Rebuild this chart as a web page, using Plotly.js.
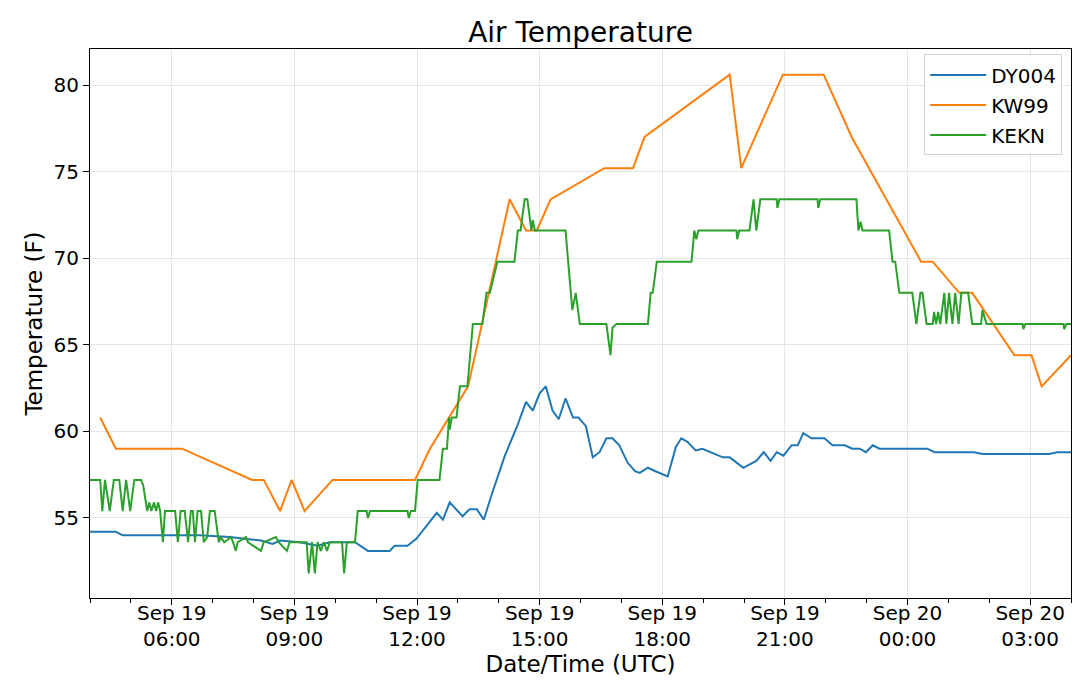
<!DOCTYPE html>
<html>
<head>
<meta charset="utf-8">
<script src="https://cdn.plot.ly/plotly-3.0.1.min.js"></script>
<style>
  html, body { margin: 0; padding: 0; background: #fff; }
  #chart { width: 1080px; height: 688px; }
</style>
</head>
<body>
<div id="chart"></div>
<script>
// DY004 station
var dyTimes = ['2019-09-19 04:00','2019-09-19 04:38','2019-09-19 04:48','2019-09-19 06:41','2019-09-19 07:25',
  '2019-09-19 08:11','2019-09-19 08:28','2019-09-19 08:39','2019-09-19 09:08','2019-09-19 09:34','2019-09-19 09:52',
  '2019-09-19 10:29','2019-09-19 10:48','2019-09-19 11:20','2019-09-19 11:27','2019-09-19 11:46','2019-09-19 11:59',
  '2019-09-19 12:11','2019-09-19 12:29','2019-09-19 12:38','2019-09-19 12:48','2019-09-19 13:07','2019-09-19 13:17',
  '2019-09-19 13:28','2019-09-19 13:38','2019-09-19 13:50','2019-09-19 14:09','2019-09-19 14:28','2019-09-19 14:40',
  '2019-09-19 14:50','2019-09-19 15:00','2019-09-19 15:09','2019-09-19 15:19','2019-09-19 15:28','2019-09-19 15:38',
  '2019-09-19 15:49','2019-09-19 15:57','2019-09-19 16:08','2019-09-19 16:18','2019-09-19 16:28','2019-09-19 16:38',
  '2019-09-19 16:47','2019-09-19 16:57','2019-09-19 17:09','2019-09-19 17:20','2019-09-19 17:27','2019-09-19 17:39',
  '2019-09-19 17:50','2019-09-19 18:08','2019-09-19 18:20','2019-09-19 18:28','2019-09-19 18:37','2019-09-19 18:49',
  '2019-09-19 18:59','2019-09-19 19:29','2019-09-19 19:39','2019-09-19 19:49','2019-09-19 19:59','2019-09-19 20:18',
  '2019-09-19 20:29','2019-09-19 20:39','2019-09-19 20:48','2019-09-19 20:58','2019-09-19 21:10','2019-09-19 21:19',
  '2019-09-19 21:27','2019-09-19 21:39','2019-09-19 21:58','2019-09-19 22:10','2019-09-19 22:28','2019-09-19 22:39',
  '2019-09-19 22:50','2019-09-19 22:59','2019-09-19 23:09','2019-09-19 23:19','2019-09-20 00:29','2019-09-20 00:40',
  '2019-09-20 01:38','2019-09-20 01:50','2019-09-20 03:28','2019-09-20 03:40','2019-09-20 04:00'];
var dyTemps = [54.2,54.2,54.0,54.0,53.9,
  53.7,53.5,53.7,53.6,53.4,53.6,
  53.6,53.1,53.1,53.4,53.4,53.8,
  54.4,55.3,54.9,55.9,55.1,55.5,
  55.5,54.9,56.4,58.6,60.4,61.7,
  61.2,62.2,62.6,61.2,60.7,61.9,
  60.8,60.8,60.3,58.5,58.8,59.6,
  59.6,59.2,58.2,57.7,57.6,57.9,
  57.7,57.4,59.1,59.6,59.4,58.9,
  59.0,58.5,58.5,58.2,57.9,58.3,
  58.8,58.3,58.8,58.6,59.2,59.2,
  59.9,59.6,59.6,59.2,59.2,59.0,
  59.0,58.8,59.2,59.0,59.0,58.8,
  58.8,58.7,58.7,58.8,58.8];

// KW99 station
var kwTimes = ['2019-09-19 04:15','2019-09-19 04:38','2019-09-19 06:15','2019-09-19 07:58','2019-09-19 08:15',
  '2019-09-19 08:39','2019-09-19 08:56','2019-09-19 09:15','2019-09-19 09:56','2019-09-19 11:57','2019-09-19 12:19',
  '2019-09-19 13:15','2019-09-19 14:16','2019-09-19 14:40','2019-09-19 14:56','2019-09-19 15:16','2019-09-19 16:35',
  '2019-09-19 17:17','2019-09-19 17:34','2019-09-19 19:39','2019-09-19 19:56','2019-09-19 20:57','2019-09-19 21:57',
  '2019-09-19 22:38','2019-09-20 00:20','2019-09-20 00:37','2019-09-20 01:16','2019-09-20 01:35','2019-09-20 02:37',
  '2019-09-20 03:02','2019-09-20 03:17','2019-09-20 04:00'];
var kwTemps = [60.8,59.0,59.0,57.2,57.2,
  55.4,57.2,55.4,57.2,57.2,59.0,
  62.6,73.4,71.6,71.6,73.4,75.2,
  75.2,77.0,80.6,75.2,80.6,80.6,
  77.0,69.8,69.8,68.0,68.0,64.4,
  64.4,62.6,64.4];

// KEKN station
var ekTimes = ['2019-09-19 04:00','2019-09-19 04:15','2019-09-19 04:18','2019-09-19 04:22','2019-09-19 04:29',
  '2019-09-19 04:35','2019-09-19 04:43','2019-09-19 04:48','2019-09-19 04:53','2019-09-19 04:59','2019-09-19 05:05',
  '2019-09-19 05:15','2019-09-19 05:18','2019-09-19 05:24','2019-09-19 05:27','2019-09-19 05:30','2019-09-19 05:34',
  '2019-09-19 05:37','2019-09-19 05:40','2019-09-19 05:43','2019-09-19 05:47','2019-09-19 05:50','2019-09-19 06:05',
  '2019-09-19 06:09','2019-09-19 06:13','2019-09-19 06:19','2019-09-19 06:24','2019-09-19 06:28','2019-09-19 06:31',
  '2019-09-19 06:34','2019-09-19 06:38','2019-09-19 06:43','2019-09-19 06:47','2019-09-19 06:52','2019-09-19 06:56',
  '2019-09-19 07:03','2019-09-19 07:09','2019-09-19 07:12','2019-09-19 07:17','2019-09-19 07:27','2019-09-19 07:30',
  '2019-09-19 07:34','2019-09-19 07:37','2019-09-19 07:49','2019-09-19 07:52','2019-09-19 08:11','2019-09-19 08:15',
  '2019-09-19 08:33','2019-09-19 08:37','2019-09-19 08:49','2019-09-19 08:53','2019-09-19 09:18','2019-09-19 09:21',
  '2019-09-19 09:26','2019-09-19 09:30','2019-09-19 09:34','2019-09-19 09:39','2019-09-19 09:43','2019-09-19 09:48',
  '2019-09-19 09:52','2019-09-19 10:10','2019-09-19 10:13','2019-09-19 10:17','2019-09-19 10:29','2019-09-19 10:33',
  '2019-09-19 10:46','2019-09-19 10:48','2019-09-19 10:51','2019-09-19 11:46','2019-09-19 11:48','2019-09-19 11:51',
  '2019-09-19 11:57','2019-09-19 12:01','2019-09-19 12:33','2019-09-19 12:38','2019-09-19 12:44','2019-09-19 12:47',
  '2019-09-19 12:48','2019-09-19 12:51','2019-09-19 12:58','2019-09-19 13:03','2019-09-19 13:14','2019-09-19 13:22',
  '2019-09-19 13:36','2019-09-19 13:42','2019-09-19 13:47','2019-09-19 13:58','2019-09-19 14:23','2019-09-19 14:28',
  '2019-09-19 14:32','2019-09-19 14:38','2019-09-19 14:42','2019-09-19 14:48','2019-09-19 14:50','2019-09-19 14:53',
  '2019-09-19 15:38','2019-09-19 15:48','2019-09-19 15:53','2019-09-19 15:59','2019-09-19 16:38','2019-09-19 16:44',
  '2019-09-19 16:47','2019-09-19 16:53','2019-09-19 17:39','2019-09-19 17:43','2019-09-19 17:46','2019-09-19 17:52',
  '2019-09-19 18:43','2019-09-19 18:47','2019-09-19 18:50','2019-09-19 18:53','2019-09-19 19:49','2019-09-19 19:50',
  '2019-09-19 19:53','2019-09-19 20:08','2019-09-19 20:14','2019-09-19 20:18','2019-09-19 20:24','2019-09-19 20:48',
  '2019-09-19 20:49','2019-09-19 20:52','2019-09-19 21:48','2019-09-19 21:49','2019-09-19 21:52','2019-09-19 22:45',
  '2019-09-19 22:48','2019-09-19 22:51','2019-09-19 22:54','2019-09-19 23:33','2019-09-19 23:38','2019-09-19 23:42',
  '2019-09-19 23:48','2019-09-20 00:07','2019-09-20 00:13','2019-09-20 00:19','2019-09-20 00:22','2019-09-20 00:28',
  '2019-09-20 00:37','2019-09-20 00:39','2019-09-20 00:42','2019-09-20 00:45','2019-09-20 00:48','2019-09-20 00:54',
  '2019-09-20 00:57','2019-09-20 01:01','2019-09-20 01:06','2019-09-20 01:10','2019-09-20 01:15','2019-09-20 01:19',
  '2019-09-20 01:29','2019-09-20 01:35','2019-09-20 01:48','2019-09-20 01:50','2019-09-20 01:56','2019-09-20 02:49',
  '2019-09-20 02:50','2019-09-20 02:53','2019-09-20 03:49','2019-09-20 03:50','2019-09-20 03:53','2019-09-20 04:00'];
var ekTemps = [57.2,57.2,55.4,57.2,55.4,
  57.2,57.2,55.4,57.2,55.4,57.2,
  57.2,56.9,55.4,55.9,55.4,55.9,
  55.4,55.9,55.4,53.6,55.4,55.4,
  53.6,55.4,55.4,53.6,55.4,55.4,
  53.6,55.4,55.4,53.6,53.9,55.4,
  55.4,53.6,53.9,53.6,53.9,53.6,
  53.1,53.6,53.9,53.6,53.1,53.6,
  53.9,53.6,53.1,53.6,53.6,51.8,
  53.6,51.8,53.6,53.1,53.6,53.1,
  53.6,53.6,51.8,53.6,53.6,55.4,
  55.4,55.0,55.4,55.4,55.0,55.4,
  55.4,57.2,57.2,59.0,59.0,60.8,
  60.1,60.8,60.8,62.6,62.6,66.2,
  66.2,68.0,68.0,69.8,69.8,71.6,
  71.6,73.4,73.4,71.6,72.2,71.6,
  71.6,67.0,68.0,66.2,66.2,64.4,
  66.0,66.2,66.2,68.0,68.0,69.8,
  69.8,71.6,71.1,71.6,71.6,71.1,
  71.6,71.6,73.4,71.6,73.4,73.4,
  72.9,73.4,73.4,72.9,73.4,73.4,
  71.6,72.1,71.6,71.6,69.8,69.8,
  68.0,68.0,66.2,68.0,68.0,66.2,
  66.2,66.9,66.2,66.9,66.2,68.0,
  66.2,68.0,66.2,68.0,66.2,68.0,
  68.0,66.2,66.2,67.0,66.2,66.2,
  65.9,66.2,66.2,65.9,66.2,66.2];

var tickDates = ['2019-09-19 06:00','2019-09-19 09:00','2019-09-19 12:00','2019-09-19 15:00',
  '2019-09-19 18:00','2019-09-19 21:00','2019-09-20 00:00','2019-09-20 03:00'];
var tickLabels = ['Sep 19<br>06:00','Sep 19<br>09:00','Sep 19<br>12:00','Sep 19<br>15:00',
  'Sep 19<br>18:00','Sep 19<br>21:00','Sep 20<br>00:00','Sep 20<br>03:00'];
var yTicks = [55, 60, 65, 70, 75, 80];

var font = 'DejaVu Sans, sans-serif';

var traces = [
  { name: 'DY004', x: dyTimes, y: dyTemps, type: 'scatter', mode: 'lines', legendgroup: 'a',
    line: { color: '#1f77b4', width: 2 } },
  { name: 'KW99', x: kwTimes, y: kwTemps, type: 'scatter', mode: 'lines', legendgroup: 'b',
    line: { color: '#ff7f0e', width: 2 } },
  { name: 'KEKN', x: ekTimes, y: ekTemps, type: 'scatter', mode: 'lines', legendgroup: 'c',
    line: { color: '#2ca02c', width: 2 } }
];

var layout = {
  width: 1080,
  height: 688,
  paper_bgcolor: '#fff',
  plot_bgcolor: '#fff',
  font: { family: font, size: 20, color: '#000' },
  margin: { l: 90, r: 9, t: 49, b: 90 },
  title: { text: 'Air Temperature', font: { family: font, size: 28, color: '#000' },
    xref: 'paper', x: 0.5, xanchor: 'center', y: 0.953, yanchor: 'middle' },
  showlegend: true,
  legend: {
    x: 0.991, xanchor: 'right', y: 0.99, yanchor: 'top',
    bgcolor: 'rgba(255,255,255,0.8)', bordercolor: '#d0d0d0', borderwidth: 1,
    font: { family: font, size: 20, color: '#000' },
    itemwidth: 56, traceorder: 'grouped', tracegroupgap: 1
  },
  xaxis: {
    type: 'date',
    range: ['2019-09-19 04:00', '2019-09-20 04:00'],
    tickmode: 'array', tickvals: tickDates, ticktext: tickLabels,
    ticks: 'outside', ticklen: 6, tickcolor: '#000', tickwidth: 1,
    ticklabelstandoff: -9,
    tickfont: { family: font, size: 20, color: '#000' },
    showgrid: true, gridcolor: '#e5e5e5', gridwidth: 1,
    showline: true, linecolor: '#000', linewidth: 1, mirror: true,
    zeroline: false,
    minor: { tickmode: 'linear', tick0: '2019-09-19 04:00', dtick: 3600000,
      ticks: 'outside', ticklen: 4, tickcolor: '#000', showgrid: false },
    title: { text: 'Date/Time (UTC)', font: { family: font, size: 23, color: '#000' }, standoff: 4 }
  },
  yaxis: {
    range: [50.38, 82.08],
    tickmode: 'array', tickvals: yTicks,
    ticks: 'outside', ticklen: 6, tickcolor: '#000', tickwidth: 1,
    tickfont: { family: font, size: 20, color: '#000' },
    showgrid: true, gridcolor: '#e5e5e5', gridwidth: 1,
    showline: true, linecolor: '#000', linewidth: 1, mirror: true,
    zeroline: false,
    title: { text: 'Temperature (F)', font: { family: font, size: 23, color: '#000' }, standoff: 4 }
  }
};

Plotly.newPlot('chart', traces, layout, { displayModeBar: false, staticPlot: true });
</script>
</body>
</html>
